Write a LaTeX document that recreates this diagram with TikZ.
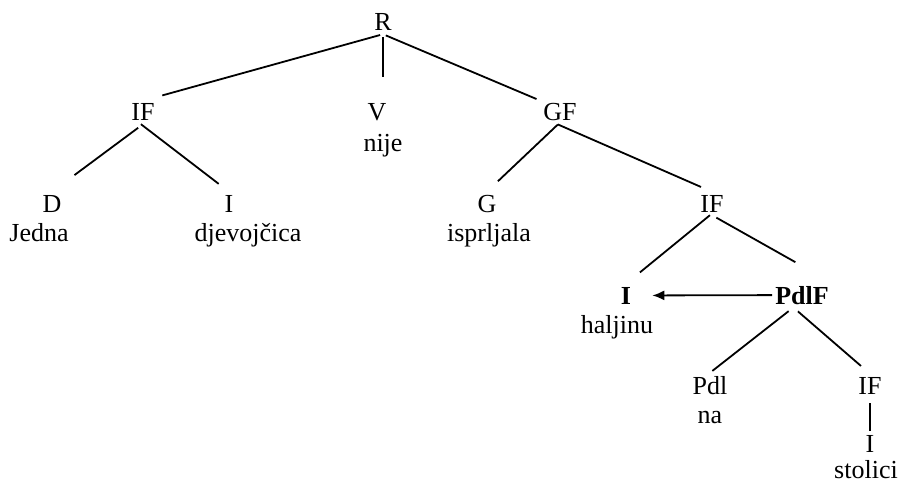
\documentclass[tikz,border=0pt]{standalone}
\usepackage{fontspec}
\setmainfont{Liberation Serif}
\usetikzlibrary{arrows.meta}

\begin{document}
\begin{tikzpicture}[x=1pt,y=-1pt,
  every node/.style={anchor=base,inner sep=3pt,font=\fontsize{26}{30}\selectfont},
  branch/.style={line width=1.8pt}]
\useasboundingbox (0,0) rectangle (902,484);
% categories
\node (R) at (383,31) {R};
\node (IFa) at (143,121) {IF};
\node (V) at (377,121) {V};
\node (GF) at (560,121) {GF};
\node (D) at (52,212) {D};
\node (Ia) at (229,212) {I};
\node (G) at (487,212) {G};
\node (IFb) at (712,212) {IF};
\node[font=\fontsize{26}{30}\selectfont\bfseries] (Ib) at (626,304) {I};
\node[font=\fontsize{26}{30}\selectfont\bfseries] (PdlF) at (802,304) {PdlF};
\node (Pdl) at (710,394) {Pdl};
\node (IFc) at (870,394) {IF};
\node (Ic) at (870,452) {I};
% words
\node (nije) at (383,152) {nije};
\node (jedna) at (39,241) {Jedna};
\node (djev) at (248,241) {djevoj\v{c}ica};
\node (ispr) at (489,241) {isprljala};
\node (halj) at (617,333) {haljinu};
\node (na) at (710,423) {na};
\node (stol) at (866,478) {stolici};
% branches
\draw[branch, shorten <=3pt, shorten >=20pt] (R.south) -- (IFa.north);
\draw[branch, shorten <=3pt, shorten >=24pt] (R.south) -- (R.south |- V.north);
\draw[branch, shorten <=3pt, shorten >=4pt] (R.south) -- (GF.north west);
\draw[branch, shorten <=6pt, shorten >=28pt] (IFa.south) -- (D.north);
\draw[branch, shorten >=13pt] (IFa.-100) -- (Ia.north);
\draw[branch, shorten >=15pt] (GF.-100) -- (G.north);
\draw[branch, shorten >=12pt] (GF.-100) -- (IFb.north);
\draw[branch, shorten >=18pt] (IFb.-100) -- (Ib.north);
\draw[branch, shorten <=5pt, shorten >=42pt] (IFb.south) -- (PdlF.north east);
\draw[branch, shorten <=6pt, shorten >=3pt] (PdlF.-125) -- (Pdl.north);
\draw[branch, shorten <=6pt, shorten >=12pt] (PdlF.-125) -- (IFc.north);
\draw[branch, shorten <=6pt, shorten >=1pt] (IFc.south) -- (Ic.north);
% PdlF points back to I
\draw[branch, -{Latex[length=12pt,width=10pt]}, shorten >=18pt] (PdlF.west) -- (Ib.east);
\end{tikzpicture}
\end{document}
